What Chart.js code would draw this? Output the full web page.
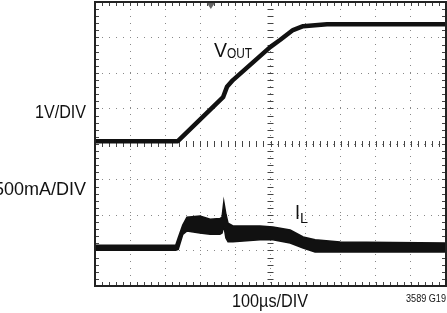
<!DOCTYPE html>
<html>
<head>
<meta charset="utf-8">
<script src="https://cdn.jsdelivr.net/npm/chart.js@4.4.0/dist/chart.umd.min.js"></script>
<style>
  html, body { margin: 0; padding: 0; background: #fff; }
</style>
</head>
<body>
<canvas id="scope" width="447" height="313"></canvas>
<script>
// time in µs (100µs/DIV), vertical in screen divisions (1V/DIV, 500mA/DIV)
const timeRange = [0, 1000];
const divRange = [-4, 4];
const triggerTime = 330;

// V_OUT trace
const tV = [0, 236, 365, 376, 393, 499, 527, 564, 593, 661, 1000];
const vOut = [0.08, 0.08, 1.32, 1.61, 1.80, 2.73, 2.93, 3.21, 3.32, 3.37, 3.37];

// I_L trace, drawn as a noise band (upper / lower edge)
const tIL = [0, 230, 237, 250, 262, 299, 328, 356, 362, 367, 373, 379, 393, 470, 507, 556, 593, 627, 698, 1000];
const ilHigh = [-2.85, -2.85, -2.65, -2.28, -2.06, -2.03, -2.12, -2.10, -2.06, -1.63, -1.98, -2.23, -2.31, -2.31, -2.34, -2.42, -2.62, -2.70, -2.76, -2.79];
const ilLow = [-2.99, -2.99, -2.97, -2.55, -2.45, -2.51, -2.54, -2.54, -2.51, -2.30, -2.65, -2.75, -2.75, -2.70, -2.70, -2.79, -2.93, -3.04, -3.04, -3.04];

const toPoints = (xs, ys) => xs.map((x, i) => ({ x: x, y: ys[i] }));

// frame, minor ticks and trigger marker like a scope screen
const scopeFrame = {
    id: 'scopeFrame',
    beforeDatasetsDraw(chart) {
        const { ctx, chartArea: a, scales: { x, y } } = chart;
        ctx.save();
        ctx.strokeStyle = '#444';
        ctx.lineWidth = 1;
        ctx.beginPath();
        const cx = x.getPixelForValue(500);
        const cy = y.getPixelForValue(0);
        for (let t = timeRange[0]; t <= timeRange[1]; t += 20) {
            const px = Math.round(x.getPixelForValue(t)) + 0.5;
            ctx.moveTo(px, cy - 3); ctx.lineTo(px, cy + 3);
            ctx.moveTo(px, a.top); ctx.lineTo(px, a.top + 4);
            ctx.moveTo(px, a.bottom); ctx.lineTo(px, a.bottom - 4);
        }
        for (let v = divRange[0]; v <= divRange[1] + 0.001; v += 0.2) {
            const py = Math.round(y.getPixelForValue(v)) + 0.5;
            ctx.moveTo(cx - 3, py); ctx.lineTo(cx + 3, py);
            ctx.moveTo(a.left, py); ctx.lineTo(a.left + 4, py);
            ctx.moveTo(a.right, py); ctx.lineTo(a.right - 4, py);
        }
        ctx.stroke();

        // trigger marker
        const tx = x.getPixelForValue(triggerTime);
        ctx.fillStyle = '#666';
        ctx.beginPath();
        ctx.moveTo(tx - 4, a.top + 1);
        ctx.lineTo(tx + 4, a.top + 1);
        ctx.lineTo(tx, a.top + 7);
        ctx.closePath();
        ctx.fill();
        ctx.restore();
    },
    afterDraw(chart) {
        const { ctx, chartArea: a } = chart;
        ctx.save();
        ctx.strokeStyle = '#222';
        ctx.lineWidth = 2;
        ctx.strokeRect(a.left, a.top, a.right - a.left, a.bottom - a.top);

        ctx.fillStyle = '#111';
        ctx.textBaseline = 'alphabetic';
        ctx.font = '18px "Liberation Sans", Arial, sans-serif';
        ctx.textAlign = 'right';
        ctx.fillText('1V/DIV', 86, 118, 51);
        ctx.fillText('500mA/DIV', 86, 195);
        ctx.textAlign = 'center';
        ctx.fillText('100µs/DIV', 270, 307, 76);
        ctx.font = '11px "Liberation Sans", Arial, sans-serif';
        ctx.textAlign = 'right';
        ctx.fillText('3589 G19', 446, 302, 40);

        // trace labels
        ctx.textAlign = 'left';
        ctx.font = '20px "Liberation Sans", Arial, sans-serif';
        ctx.fillText('V', 214, 57, 13);
        ctx.fillText('I', 295, 219, 5);
        ctx.font = '15px "Liberation Sans", Arial, sans-serif';
        ctx.fillText('OUT', 227, 58, 25);
        ctx.fillText('L', 300, 223, 8);
        ctx.restore();
    }
};

new Chart(document.getElementById('scope'), {
    type: 'line',
    data: {
        datasets: [
            {
                label: 'VOUT',
                data: toPoints(tV, vOut),
                borderColor: '#111',
                borderWidth: 4.5,
                borderJoinStyle: 'round',
                pointRadius: 0,
                tension: 0,
                fill: false
            },
            {
                label: 'IL high',
                data: toPoints(tIL, ilHigh),
                borderColor: '#111',
                borderWidth: 1.5,
                backgroundColor: '#111',
                pointRadius: 0,
                tension: 0,
                fill: '+1'
            },
            {
                label: 'IL low',
                data: toPoints(tIL, ilLow),
                borderColor: '#111',
                borderWidth: 1.5,
                pointRadius: 0,
                tension: 0,
                fill: false
            }
        ]
    },
    options: {
        responsive: false,
        animation: false,
        devicePixelRatio: 1,
        layout: { padding: { left: 95, right: 1, top: 2, bottom: 27 } },
        scales: {
            x: {
                type: 'linear',
                min: timeRange[0],
                max: timeRange[1],
                afterFit: s => { s.height = 0; },
                ticks: { display: false, stepSize: 100 },
                grid: { color: '#888', lineWidth: 1, drawTicks: false },
                border: { display: false, dash: [1, 6] }
            },
            y: {
                min: divRange[0],
                max: divRange[1],
                afterFit: s => { s.width = 0; },
                ticks: { display: false, stepSize: 1 },
                grid: { color: '#888', lineWidth: 1, drawTicks: false },
                border: { display: false, dash: [1, 6] }
            }
        },
        plugins: {
            legend: { display: false },
            tooltip: { enabled: false }
        }
    },
    plugins: [scopeFrame]
});
</script>
</body>
</html>
